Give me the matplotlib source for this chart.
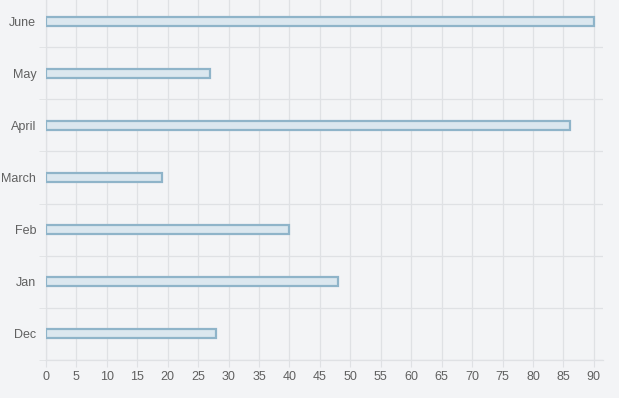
import matplotlib.pyplot as plt

# data
months = ['Dec', 'Jan', 'Feb', 'March', 'April', 'May', 'June']
values = [28, 48, 40, 19, 86, 27, 90]
x_ticks = list(range(0, 95, 5))

plt.rcParams['font.family'] = ['Liberation Sans', 'DejaVu Sans']

bg = '#f3f4f6'
grid_col = '#dfe1e4'

fig = plt.figure(figsize=(6.19, 3.98), dpi=100, facecolor=bg)
ax = fig.add_axes([46 / 619, 38 / 398, 557 / 619, 365 / 398])
ax.set_facecolor(bg)

ax.barh(range(len(months)), values, height=0.17,
        color='#dbe7ef', edgecolor='#8fb4c9', linewidth=1.6, zorder=3)

ax.set_xlim(0, 91.5)
ax.set_ylim(-0.5, len(months) - 0.5)
ax.set_xticks(x_ticks)
ax.set_yticks(range(len(months)))
ax.set_yticklabels(months)

# gridlines sit between categories on the y axis
ax.set_yticks([i + 0.5 for i in range(-1, len(months))], minor=True)
ax.grid(axis='x', color=grid_col, linewidth=0.9, zorder=0)
ax.grid(axis='y', which='minor', color=grid_col, linewidth=0.9, zorder=0)

ax.tick_params(axis='x', length=5, color=grid_col, labelcolor='#606060',
               labelsize=9, pad=3)
ax.tick_params(axis='y', which='major', length=0, labelcolor='#606060',
               labelsize=9, pad=7)
ax.tick_params(axis='y', which='minor', length=5, color=grid_col)

for side in ['top', 'right']:
    ax.spines[side].set_visible(False)
for side in ['left', 'bottom']:
    ax.spines[side].set_color(grid_col)
    ax.spines[side].set_linewidth(0.9)

fig.savefig('out.png', dpi=100, facecolor=bg)
